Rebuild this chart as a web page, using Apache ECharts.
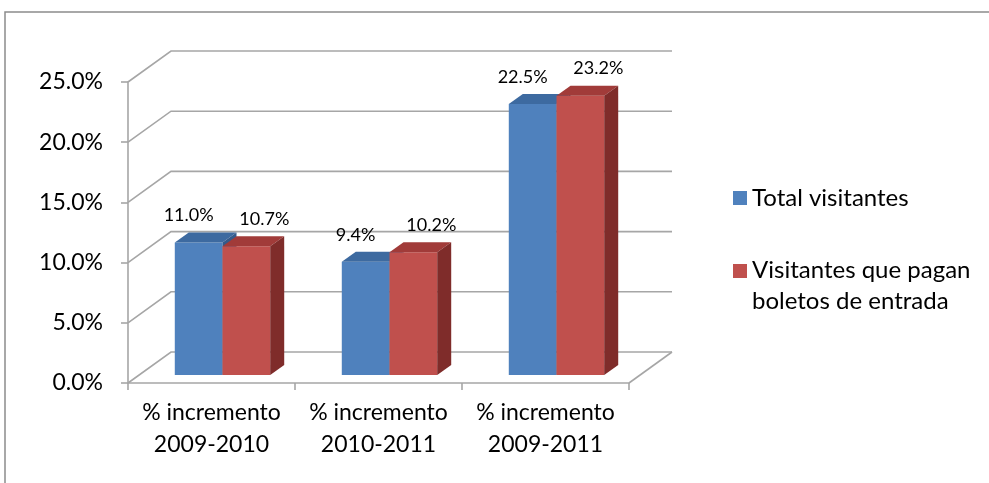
<!DOCTYPE html>
<html><head><meta charset="utf-8">
<script src="https://cdn.jsdelivr.net/npm/echarts@6/dist/echarts.min.js"></script>
<style>html,body{margin:0;padding:0;background:#fff}#c{width:989px;height:483px}</style>
</head><body><div id="c"></div>
<script>
const categories = ['% incremento\n2009-2010', '% incremento\n2010-2011', '% incremento\n2009-2011'];
const seriesNames = ['Total visitantes', 'Visitantes que pagan\nboletos de entrada'];
const totalVisitantes = [11.0, 9.4, 22.5];
const visitantesPagan = [10.7, 10.2, 23.2];
const yTicks = [0, 5, 10, 15, 20, 25];

const FONT = 'Lato';
const DX = 43, DY = -31;      // wall depth
const SX = 11, SY = -8;       // bar depth position
const BX = 14, BY = -10;      // bar depth size
const COLORS = [
  {front: '#4F81BD', top: '#3D6AA0', side: '#345A8A'},
  {front: '#C0504D', top: '#A13B39', side: '#7F2C2A'}
];

const chart = echarts.init(document.getElementById('c'), null, {renderer: 'canvas'});

function wallItem(params, api) {
  const cs = params.coordSys;
  const v = api.value(1);
  const y = api.coord([0, v])[1];
  const x0 = cs.x, x1 = cs.x + cs.width;
  const st = {stroke: '#A6A6A6', lineWidth: 1.6, fill: null};
  const children = [{
    type: 'polyline',
    shape: {points: [[x0, y], [x0 + DX, y + DY], [x1 + DX, y + DY]]},
    style: st
  }];
  if (v === 0) {
    children.push({type: 'line', shape: {x1: x1, y1: y, x2: x1 + DX, y2: y + DY}, style: st});
  }
  return {type: 'group', children: children};
}

function barItemFactory(k) {
  return function (params, api) {
    const idx = api.value(0), v = api.value(1);
    const c0 = api.coord([idx, 0]);
    const c1 = api.coord([idx, v]);
    const bw = api.size([1, 0])[0] / 3.5;
    let xl = (k === 0 ? c0[0] - bw : c0[0]) + SX;
    const yb = c0[1] + SY, yt = c1[1] + SY;
    const col = COLORS[k];
    return {
      type: 'group',
      children: [
        {type: 'rect', shape: {x: xl, y: yt, width: bw, height: yb - yt}, style: {fill: col.front}},
        {type: 'polygon', shape: {points: [[xl, yt], [xl + bw, yt], [xl + bw + BX, yt + BY], [xl + BX, yt + BY]]}, style: {fill: col.top}},
        {type: 'polygon', shape: {points: [[xl + bw, yt], [xl + bw + BX, yt + BY], [xl + bw + BX, yb + BY], [xl + bw, yb]]}, style: {fill: col.side}},
        {type: 'text', x: xl + bw / 2 + (k === 0 ? -10 : 18), y: yt - 27,
         style: {text: v.toFixed(1) + '%', fill: '#000', font: '18px ' + FONT, textAlign: 'center', textVerticalAlign: 'middle'}}
      ]
    };
  };
}

const option = {
  animation: false,
  grid: {left: 128, top: 82, width: 501, height: 301},
  graphic: [{type: 'rect', shape: {x: 5, y: 12, width: 1100, height: 600}, style: {fill: null, stroke: '#8C8C8C', lineWidth: 1.5}, z: -10}],
  legend: [
    {data: [seriesNames[0]], orient: 'vertical', left: 728, top: 181, itemWidth: 14, itemHeight: 14, icon: 'rect', itemGap: 8,
     textStyle: {fontFamily: FONT, fontSize: 24, color: '#000'}},
    {data: [seriesNames[1]], orient: 'vertical', left: 728, top: 250, itemWidth: 14, itemHeight: 44, itemGap: 8,
     icon: 'path://M0,0h14v14h-14z M0,44h0.01v0.01h-0.01z',
     textStyle: {fontFamily: FONT, fontSize: 24, color: '#000', lineHeight: 31}}
  ],
  xAxis: {
    type: 'category', data: categories, boundaryGap: true,
    axisLine: {lineStyle: {color: '#A6A6A6', width: 1.6}},
    axisTick: {show: true, length: 7, lineStyle: {color: '#A6A6A6', width: 1.6}},
    axisLabel: {color: '#000', fontFamily: FONT, fontSize: 23, lineHeight: 32, margin: 14, interval: 0, hideOverlap: false}
  },
  yAxis: {
    type: 'value', min: 0, max: 25, interval: 5,
    axisLine: {show: true, lineStyle: {color: '#A6A6A6', width: 1.6}},
    axisTick: {show: true, length: 7, lineStyle: {color: '#A6A6A6', width: 1.6}},
    splitLine: {show: false},
    axisLabel: {color: '#000', fontFamily: FONT, fontSize: 23, margin: 25, formatter: v => v.toFixed(1) + '%'}
  },
  series: [
    {type: 'custom', name: 'walls', silent: true, clip: false, z: 1, renderItem: wallItem,
     data: yTicks.map(v => [0, v])},
    {type: 'custom', name: seriesNames[0], clip: false, z: 2, itemStyle: {color: COLORS[0].front},
     renderItem: barItemFactory(0), data: totalVisitantes.map((v, i) => [i, v])},
    {type: 'custom', name: seriesNames[1], clip: false, z: 3, itemStyle: {color: COLORS[1].front},
     renderItem: barItemFactory(1), data: visitantesPagan.map((v, i) => [i, v])}
  ]
};
chart.setOption(option);
</script></body></html>
